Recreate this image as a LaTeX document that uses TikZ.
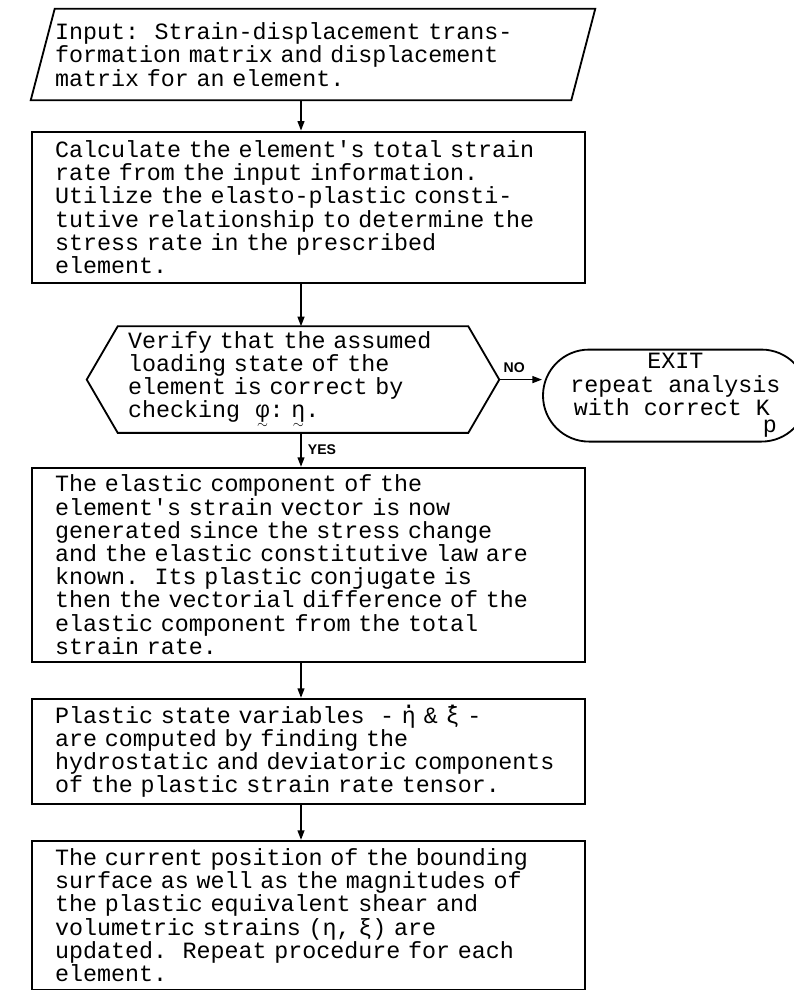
\documentclass[tikz,border=0pt]{standalone}
\usepackage{amsmath}
\usepackage{fontspec}
\setmonofont{Liberation Mono}
\setsansfont{Liberation Sans}
\usetikzlibrary{arrows.meta,shapes.misc,positioning,calc}

% typewriter face with fixed word spaces
\newcommand{\typeface}{\ttfamily\fontsize{16.6}{16.5}\selectfont
  \spaceskip=0.6em\relax\xspaceskip=0.6em\relax}
% typewriter marks under / over a single character cell
\newcommand{\vtilde}[1]{#1\llap{\raisebox{-0.45em}{\makebox[0.6em]{\fontsize{10}{10}\selectfont$\sim$}}}}
\newcommand{\vdot}[1]{#1\llap{\raisebox{0.62em}{\makebox[0.6em]{.}}}}
\frenchspacing

\begin{document}
\begin{tikzpicture}[
    node distance=0.85cm,
    >={Triangle[length=2.4mm,width=1.7mm]},
    font={\typeface},
    box/.style={rectangle,draw,line width=1.3pt,text width=12.675cm,
                inner xsep=0.575cm,inner ysep=0pt,align=left},
    flow/.style={->,line width=1.2pt},
    lbl/.style={font=\sffamily\bfseries\fontsize{10}{12}\selectfont}
  ]
  \useasboundingbox (0,0) rectangle (19.825,-24.75);
  \coordinate (ax) at (7.525,0);

  % input (parallelogram drawn round the text)
  \node[rectangle,text width=12.9cm,inner xsep=0.3cm,inner ysep=0pt,
        minimum height=2.275cm,align=left] (input) at (7.825,-1.3625)
    {Input:~~Strain-displacement trans-\\
     formation matrix and displacement\\
     matrix for an element.};
  \draw[line width=1.3pt] ([xshift=0.3cm]input.north west)
    -- ([xshift=0.3cm]input.north east)
    -- ([xshift=-0.3cm]input.south east)
    -- ([xshift=-0.3cm]input.south west) -- cycle;

  \node[box,minimum height=3.775cm] (calc) [below=0.76cm of input,xshift=-0.1125cm]
    {Calculate the element's total strain\\
     rate from the input information.\\
     Utilize the elasto-plastic consti-\\
     tutive relationship to determine the\\
     stress rate in the prescribed\\
     element.};

  % decision
  \node[rectangle,text width=8.25cm,inner xsep=0.25cm,inner ysep=0pt,
        minimum height=2.65cm,align=left] (check) [below=1.07cm of calc,xshift=-0.3875cm]
    {Verify that the assumed\\
     loading state of the\\
     element is correct by\\
     checking~~\vtilde{φ}:~\vtilde{η}.};
  \coordinate (checkR) at ([xshift=0.775cm]check.east);
  \coordinate (checkL) at ([xshift=-0.775cm]check.west);
  \draw[line width=1.3pt] (check.north west) -- (check.north east) -- (checkR)
    -- (check.south east) -- (check.south west) -- (checkL) -- cycle;

  \node[rounded rectangle,draw,line width=1.3pt,minimum width=6.25cm,
        minimum height=2.3cm,inner sep=0pt,align=center] (exit)
        [right=1.07cm of checkR,yshift=-0.4cm]
    {EXIT\\repeat analysis\\with correct K\kern-.3em\raisebox{-.75\baselineskip}{p}};

  \node[box,minimum height=4.85cm] (elastic) [below=0.85cm of check,xshift=0.3875cm]
    {The elastic component of the\\
     element's strain vector is now\\
     generated since the stress change\\
     and the elastic constitutive law are\\
     known.~~Its plastic conjugate is\\
     then the vectorial difference of the\\
     elastic component from the total\\
     strain rate.};

  \node[box,minimum height=2.625cm] (plastic) [below=0.88cm of elastic]
    {Plastic state variables~~-~\vdot{η}~\&~\vdot{ξ}~-\\
     are computed by finding the\\
     \mbox{hydrostatic and deviatoric components}\\
     of the plastic strain rate tensor.};

  \node[box,minimum height=3.72cm] (update) [below=0.88cm of plastic]
    {The current position of the bounding\\
     surface as well as the magnitudes of\\
     the plastic equivalent shear and\\
     volumetric strains (η,~ξ) are\\
     updated.~~Repeat procedure for each\\
     element.};

  \draw[flow] (input.south -| ax) -- (calc.north -| ax);
  \draw[flow] (calc.south -| ax) -- (check.north -| ax);
  \draw[flow] (checkR) -- (checkR -| exit.west) node[lbl,pos=0.35,above=1pt]{NO};
  \draw[flow] (check.south -| ax) -- (elastic.north -| ax) node[lbl,midway,right=1pt]{YES};
  \draw[flow] (elastic.south -| ax) -- (plastic.north -| ax);
  \draw[flow] (plastic.south -| ax) -- (update.north -| ax);
\end{tikzpicture}
\end{document}
